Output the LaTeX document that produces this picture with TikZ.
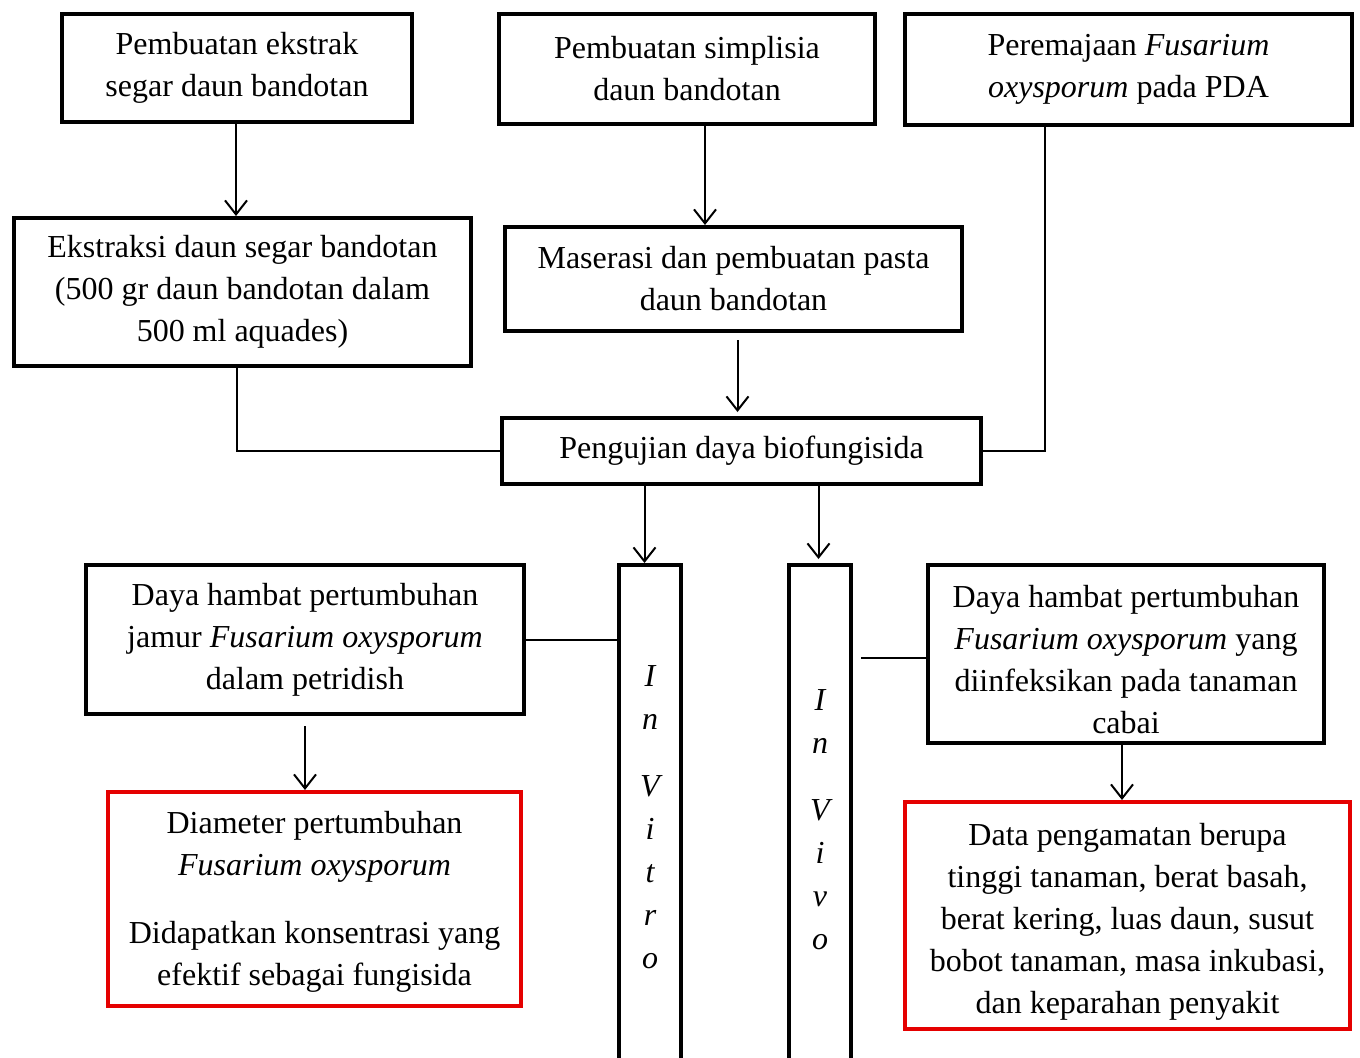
\documentclass[tikz,border=0pt]{standalone}
\usepackage{fontspec}
\setmainfont{Liberation Serif}
\usepackage{tikz}
\usetikzlibrary{arrows.meta, positioning}
\tikzstyle{box} = [rectangle, draw = black, line width = 2pt, inner sep = 0pt, align = center, font = \fontsize{16}{21}\selectfont]
\tikzstyle{red box} = [box, draw = red!90!black]
\tikzstyle{lajur} = [rectangle, draw = black, line width = 2pt, minimum width = 31pt, minimum height = 267.5pt]
\tikzstyle{lajur text} = [align = center, inner sep = 0pt, font = \fontsize{16}{21.5}\selectfont\itshape]
\tikzstyle{post} = [->, line width = 1pt]
\tikzstyle{line} = [line width = 1pt]

\begin{document}
\begin{tikzpicture}[x = 0.5pt, y = -0.5pt, >= {Straight Barb[length = 7pt, width = 11pt]}]
        \useasboundingbox (0,0) rectangle (1360,1057);
        % top row
        \node[box, minimum width = 175pt, minimum height = 54pt] (ekstrak) at (237,68)
            {Pembuatan ekstrak\\segar daun bandotan};
        \node[box, minimum width = 188pt, minimum height = 55pt] (simplisia) at (687,69)
            {Pembuatan simplisia\\daun bandotan};
        \node[box, minimum width = 223.5pt, minimum height = 55.5pt] (peremajaan) at (1128.5,69.5)
            {Peremajaan \textit{Fusarium}\\\textit{oxysporum} pada PDA};
        % second row
        \node[box, minimum width = 228.5pt, minimum height = 74pt] (ekstraksi) at (242.5,292)
            {Ekstraksi daun segar bandotan\\(500 gr daun bandotan dalam\\500 ml aquades)};
        \node[box, minimum width = 228.5pt, minimum height = 52pt] (maserasi) at (733.5,279)
            {Maserasi dan pembuatan pasta\\daun bandotan};
        \node[box, minimum width = 239.5pt, minimum height = 33pt] (pengujian) at (741.5,451)
            {Pengujian daya biofungisida};
        % in vitro / in vivo
        \node[lajur] (vitro) at (650,832.5) {};
        \node[lajur text] (vitrotxt) at (650,817) {I\\n\\[12pt]V\\i\\t\\r\\o};
        \node[lajur] (vivo) at (820,832.5) {};
        \node[lajur text] (vivotxt) at (820,820) {I\\n\\[12pt]V\\i\\v\\o};
        % results
        \node[box, minimum width = 219pt, minimum height = 74.5pt] (hambatkiri) at (305,639.5)
            {Daya hambat pertumbuhan\\jamur \textit{Fusarium oxysporum}\\dalam petridish};
        \node[box, minimum width = 198pt, minimum height = 89pt] (hambatkanan) at (1126,654)
            {\rule{0pt}{17pt}Daya hambat pertumbuhan\\\textit{Fusarium oxysporum} yang\\diinfeksikan pada tanaman\\cabai};
        \node[red box, minimum width = 206.5pt, minimum height = 107pt] (diameter) at (314.5,899)
            {\rule{0pt}{14pt}Diameter pertumbuhan\\\textit{Fusarium oxysporum}\\[13pt]Didapatkan konsentrasi yang\\efektif sebagai fungisida};
        \node[red box, minimum width = 222.5pt, minimum height = 113.5pt] (data) at (1127.5,915.5)
            {\rule{0pt}{17pt}Data pengamatan berupa\\tinggi tanaman, berat basah,\\berat kering, luas daun, susut\\bobot tanaman, masa inkubasi,\\dan keparahan penyakit};

        % draw arrows
        \draw[post] ([xshift = -0.5pt]ekstrak.south) -- ([xshift = -0.5pt]ekstrak.south |- ekstraksi.north);
        \draw[post] ([xshift = 9pt]simplisia.south) -- ([xshift = 9pt]simplisia.south |- maserasi.north);
        \draw[post] ([xshift = 2pt, yshift = -3.5pt]maserasi.south) -- ([xshift = 2pt, yshift = 2pt]maserasi.south |- pengujian.north);
        \draw[line] ([xshift = -3pt]ekstraksi.south) |- (pengujian.west);
        \draw[line] ([xshift = -42pt]peremajaan.south) |- (pengujian.east);
        \draw[post] ([xshift = -48.5pt]pengujian.south) -- ([xshift = -48.5pt]pengujian.south |- vitro.north);
        \draw[post] ([xshift = 38.5pt]pengujian.south) -- ([xshift = 38.5pt, yshift = 2pt]pengujian.south |- vivo.north);
        \draw[line] (hambatkiri.east) -- (hambatkiri.east -| vitro.west);
        \draw[line] ([yshift = -2pt]hambatkanan.west) -- ([xshift = 4pt, yshift = -2pt]hambatkanan.west -| vivo.east);
        \draw[post] ([yshift = -5pt]hambatkiri.south) -- (hambatkiri.south |- diameter.north);
        \draw[post] ([xshift = -2pt]hambatkanan.south) -- ([xshift = -2pt]hambatkanan.south |- data.north);
    \end{tikzpicture}
\end{document}
